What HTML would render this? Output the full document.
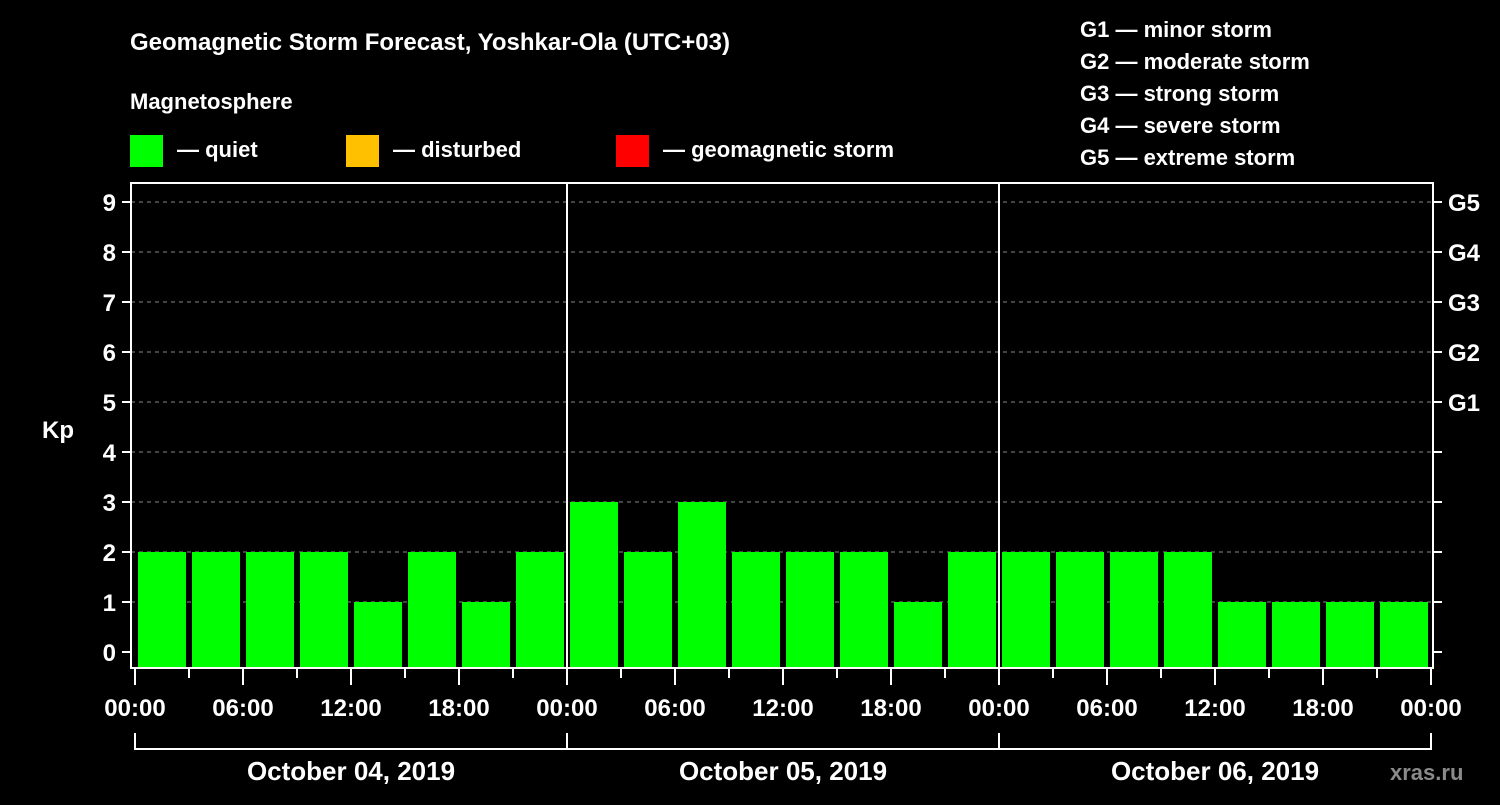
<!DOCTYPE html>
<html><head><meta charset="utf-8"><style>
body{margin:0;background:#000;width:1500px;height:800px;overflow:hidden}
text{font-family:"Liberation Sans",Arial,sans-serif;font-weight:bold;fill:#fff}
</style></head><body>
<svg id="c" width="1500" height="800">
<text x="130" y="50" font-size="24">Geomagnetic Storm Forecast, Yoshkar-Ola (UTC+03)</text>
<text x="130" y="109" font-size="22">Magnetosphere</text>
<g>
<rect x="130" y="135" width="33" height="32" fill="#00ff00"/>
<text x="177" y="157" font-size="22">— quiet</text>
<rect x="346" y="135" width="33" height="32" fill="#ffc000"/>
<text x="393" y="157" font-size="22">— disturbed</text>
<rect x="616" y="135" width="33" height="32" fill="#ff0000"/>
<text x="663" y="157" font-size="22">— geomagnetic storm</text>
</g>
<g font-size="22">
<text x="1080" y="37">G1 — minor storm</text>
<text x="1080" y="69">G2 — moderate storm</text>
<text x="1080" y="101">G3 — strong storm</text>
<text x="1080" y="133">G4 — severe storm</text>
<text x="1080" y="165">G5 — extreme storm</text>
</g>
<text x="42" y="438" font-size="24">Kp</text>
<text x="1390" y="780" font-size="22" fill="#888" style="fill:#8a8a8a">xras.ru</text>
</svg>
<script>
const values=[2,2,2,2,1,2,1,2, 3,2,3,2,2,2,1,2, 2,2,2,2,1,1,1,1];
const yTicks=[0,1,2,3,4,5,6,7,8,9];
const gLabels=[[5,"G1"],[6,"G2"],[7,"G3"],[8,"G4"],[9,"G5"]];
const timeLabels=["00:00","06:00","12:00","18:00","00:00","06:00","12:00","18:00","00:00","06:00","12:00","18:00","00:00"];
const days=["October 04, 2019","October 05, 2019","October 06, 2019"];
const svg=document.getElementById('c');const NS="http://www.w3.org/2000/svg";
function mk(t,a,p){const e=document.createElementNS(NS,t);for(const k in a)e.setAttribute(k,a[k]);(p||svg).appendChild(e);return e;}
const X0=135,STEP=54,L=131,R=1433,T=183,B=668;
const x=i=>X0+i*STEP; const y=v=>652-v*50;
yTicks.forEach(v=>{
 if(v>0){const g=mk('line',{x1:L,x2:R,y1:y(v),y2:y(v),stroke:'#888','stroke-dasharray':'4,4'});
 }
 mk('line',{x1:122,x2:L,y1:y(v),y2:y(v),stroke:'#fff','stroke-width':2});
 mk('line',{x1:R,x2:R+9,y1:y(v),y2:y(v),stroke:'#fff','stroke-width':2});
 const t=mk('text',{x:116,y:y(v)+9,'font-size':24,'text-anchor':'end'});t.textContent=v;
 
});
gLabels.forEach(([v,s])=>{const t=mk('text',{x:1448,y:y(v)+9,'font-size':24});t.textContent=s;
 });
values.forEach((v,i)=>{const r=mk('rect',{x:x(i)+3,y:y(v),width:48,height:B-1-y(v),fill:'#00ff00'});
 });
mk('rect',{x:L,y:T,width:R-L,height:B-T,fill:'none',stroke:'#fff','stroke-width':2});
[1,2].forEach(d=>mk('line',{x1:x(d*8),x2:x(d*8),y1:T,y2:B,stroke:'#fff','stroke-width':2}));
for(let i=0;i<=24;i++){const major=i%2==0;
 mk('line',{x1:x(i),x2:x(i),y1:B,y2:major?685:678,stroke:'#fff','stroke-width':2});
 if(major){const t=mk('text',{x:x(i),y:716,'font-size':24,'text-anchor':'middle'});t.textContent=timeLabels[i/2];
 }}
mk('line',{x1:x(0),x2:x(24),y1:749,y2:749,stroke:'#fff','stroke-width':2});
for(let d=0;d<=3;d++)mk('line',{x1:x(d*8),x2:x(d*8),y1:733,y2:750,stroke:'#fff','stroke-width':2});
days.forEach((s,d)=>{const t=mk('text',{x:x(d*8+4),y:780,'font-size':26,'text-anchor':'middle'});t.textContent=s;
 });
</script>
</body></html>
